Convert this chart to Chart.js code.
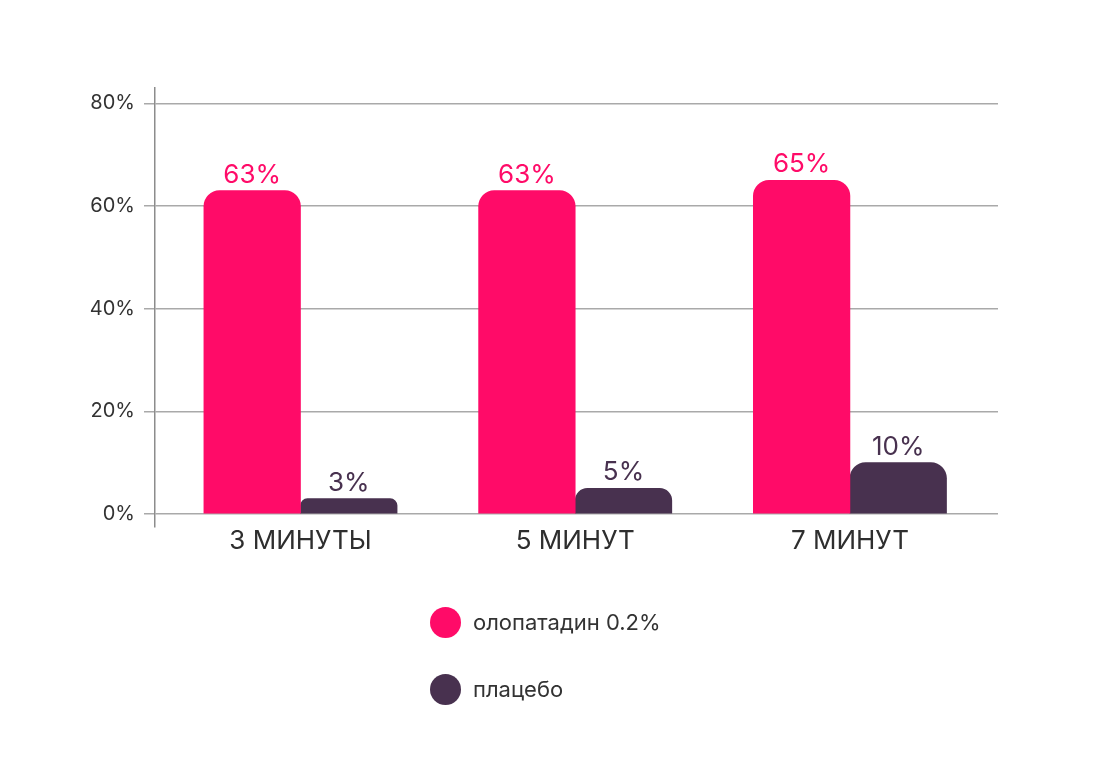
<!DOCTYPE html>
<html lang="ru">
<head>
<meta charset="utf-8">
<title>Олопатадин 0.2% и плацебо</title>
<script src="https://cdn.jsdelivr.net/npm/chart.js@4.4.1/dist/chart.umd.min.js"></script>
<style>
    html, body {
        margin: 0;
        padding: 0;
        background: #ffffff;
    }
    #wrap {
        position: relative;
        width: 1115px;
        height: 782px;
    }
    #legend {
        position: absolute;
        left: 430px;
        top: 604px;
        margin: 0;
        padding: 0;
        list-style: none;
        font-family: Inter, "Noto Sans", sans-serif;
        font-size: 22px;
        color: #333333;
    }
    #legend li {
        display: flex;
        align-items: center;
        height: 36px;
        margin-bottom: 31px;
    }
    #legend .dot {
        width: 31px;
        height: 31px;
        border-radius: 50%;
        margin-right: 12px;
    }
</style>
</head>
<body>
<div id="wrap">
    <canvas id="chart" width="1115" height="782"></canvas>
    <ul id="legend"></ul>
</div>
<script>
// chart data
var categories = ['3 МИНУТЫ', '5 МИНУТ', '7 МИНУТ'];
var olopatadine = [63, 63, 65];
var placebo = [3, 5, 10];
var yTicks = [0, 20, 40, 60, 80];
var seriesNames = ['олопатадин 0.2%', 'плацебо'];

var PINK = '#ff0b68';
var PLUM = '#48314f';
var FONT = 'Inter, "Noto Sans", sans-serif';

// bars sit on numeric x positions 0, 1, 2 so the groups line up with the picture
var toPoints = function(values) {
    return values.map(function(v, i) {
        return {x: i, y: v};
    });
};

// value labels above each bar
var valueLabels = {
    id: 'valueLabels',
    afterDatasetsDraw: function(chart) {
        var ctx = chart.ctx;
        ctx.save();
        ctx.font = '26px ' + FONT;
        ctx.textAlign = 'center';
        ctx.textBaseline = 'alphabetic';
        chart.data.datasets.forEach(function(ds, di) {
            chart.getDatasetMeta(di).data.forEach(function(bar, i) {
                ctx.fillStyle = ds.backgroundColor;
                ctx.fillText(ds.data[i].y + '%', bar.x, bar.y - 8);
            });
        });
        ctx.restore();
    }
};

// legend as html list, stacked in two rows
var htmlLegend = {
    id: 'htmlLegend',
    afterUpdate: function(chart) {
        var list = document.getElementById('legend');
        list.innerHTML = '';
        var items = chart.options.plugins.legend.labels.generateLabels(chart);
        items.forEach(function(item) {
            var li = document.createElement('li');
            var dot = document.createElement('span');
            dot.className = 'dot';
            dot.style.background = item.fillStyle;
            var text = document.createElement('span');
            text.textContent = item.text;
            li.appendChild(dot);
            li.appendChild(text);
            list.appendChild(li);
        });
    }
};

new Chart(document.getElementById('chart'), {
    type: 'bar',
    data: {
        datasets: [
            {
                label: seriesNames[0],
                data: toPoints(olopatadine),
                backgroundColor: PINK,
                borderRadius: {topLeft: 16, topRight: 16},
                borderSkipped: 'start',
                barThickness: 96.6
            },
            {
                label: seriesNames[1],
                data: toPoints(placebo),
                backgroundColor: PLUM,
                borderRadius: {topLeft: 16, topRight: 16},
                borderSkipped: 'start',
                barThickness: 96.6
            }
        ]
    },
    options: {
        responsive: false,
        animation: false,
        devicePixelRatio: 1,
        layout: {
            padding: {left: 0, top: 88, right: 117, bottom: 195}
        },
        plugins: {
            legend: {display: false},
            tooltip: {enabled: false}
        },
        scales: {
            x: {
                type: 'linear',
                offset: false,
                min: -0.5296,
                max: 2.539,
                afterBuildTicks: function(scale) {
                    scale.ticks = categories.map(function(c, i) {
                        return {value: i};
                    });
                },
                afterFit: function(scale) {
                    scale.height = 60;
                },
                grid: {display: false, drawTicks: false},
                border: {display: false},
                ticks: {
                    padding: 0,
                    color: '#2e2e2e',
                    font: {family: FONT, size: 26, lineHeight: 1.1},
                    callback: function(value) {
                        return categories[value];
                    }
                }
            },
            y: {
                min: -2.53,
                max: 83.0,
                afterBuildTicks: function(scale) {
                    scale.ticks = yTicks.map(function(v) {
                        return {value: v};
                    });
                },
                afterFit: function(scale) {
                    scale.width = 155;
                },
                grid: {
                    color: '#a9a9a9',
                    lineWidth: 1.5,
                    tickLength: 11
                },
                border: {
                    color: '#8c8c8c',
                    width: 1.5
                },
                ticks: {
                    padding: 9,
                    color: '#333333',
                    font: {family: FONT, size: 20},
                    callback: function(value) {
                        return value + '%';
                    }
                }
            }
        }
    },
    plugins: [valueLabels, htmlLegend]
});
</script>
</body>
</html>
